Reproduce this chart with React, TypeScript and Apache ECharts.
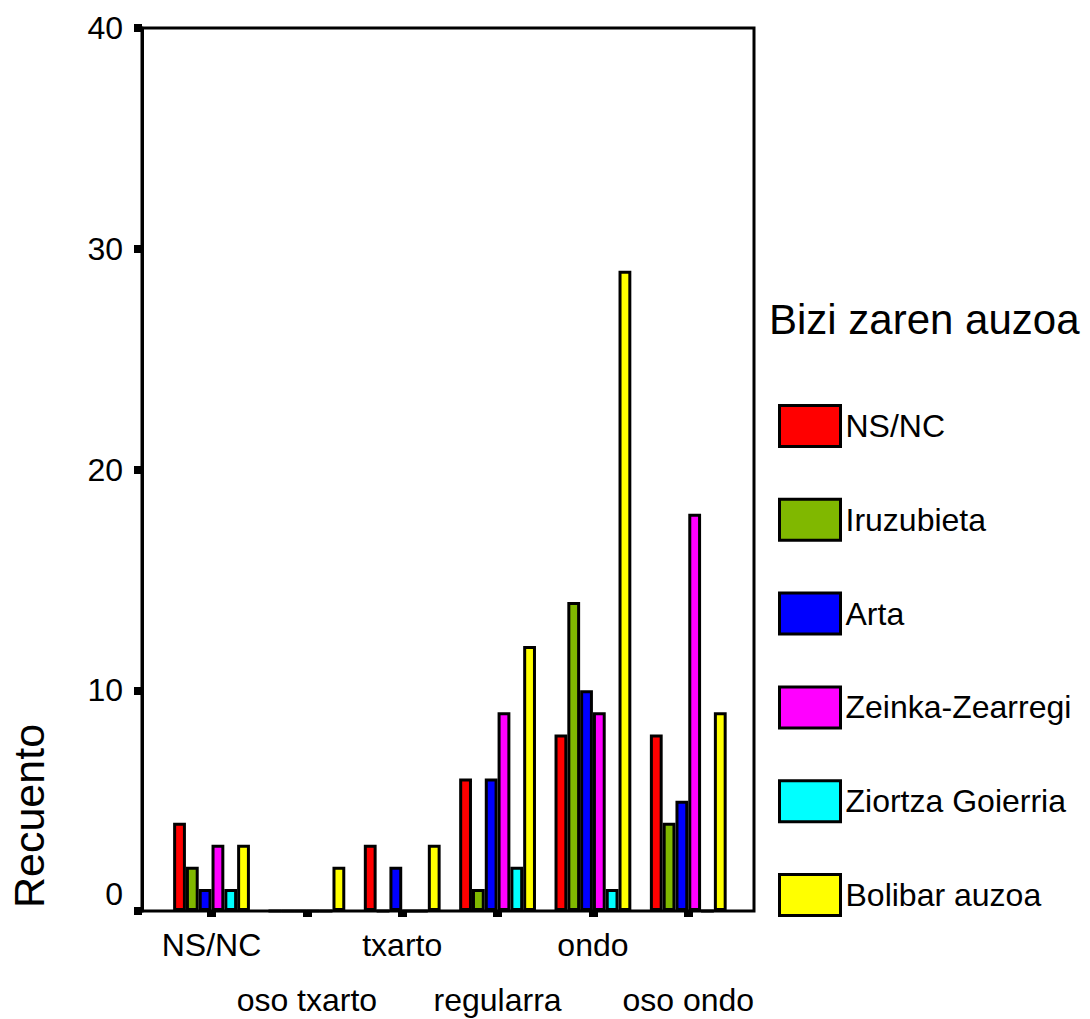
import React, { useEffect, useRef } from "react";
import * as echarts from "echarts";

const categories = ["NS/NC", "oso txarto", "txarto", "regularra", "ondo", "oso ondo"];
const seriesNames = ["NS/NC", "Iruzubieta", "Arta", "Zeinka-Zearregi", "Ziortza Goierria", "Bolibar auzoa"];
const nsnc = [4, 0, 3, 6, 8, 8];
const iruzubieta = [2, 0, 0, 1, 14, 4];
const arta = [1, 0, 2, 6, 10, 5];
const zeinka = [3, 0, 0, 9, 9, 18];
const ziortza = [1, 0, 0, 2, 1, 0];
const bolibar = [3, 2, 3, 12, 29, 9];
const seriesValues = [nsnc, iruzubieta, arta, zeinka, ziortza, bolibar];
const colors = ["#FF0000", "#80B800", "#0000FF", "#FF00FF", "#00FFFF", "#FFFF00"];
const yTicks = { min: 0, max: 40, interval: 10 };
const legendTitle = "Bizi zaren auzoa";
const yTitle = "Recuento";

const FONT = "'Liberation Sans', Arial, sans-serif";

export default function App() {
  const ref = useRef<HTMLDivElement>(null);
  useEffect(() => {
    if (!ref.current) return;
    const chart = echarts.init(ref.current, null, { renderer: "svg" });
    const option: any = {
      animation: false,
      backgroundColor: "#ffffff",
      textStyle: { fontFamily: FONT, color: "#000" },
      grid: [
        {
          left: 142, top: 28, width: 612, height: 883, outerBoundsMode: "none", containLabel: false,
          show: true, borderColor: "#000", borderWidth: 3, backgroundColor: "transparent",
        },
        { left: 163.85, top: 28, width: 572.1, height: 883, outerBoundsMode: "none", containLabel: false },
      ],
      xAxis: [
        { type: "value", gridIndex: 0, show: false, min: 0, max: 1 },
        {
          type: "category", gridIndex: 1, data: categories,
          axisLine: { show: false },
          axisTick: { show: true, alignWithLabel: true, length: 6, lineStyle: { color: "#000", width: 9 } },
          axisLabel: {
            interval: 0, margin: 6, fontSize: 32, lineHeight: 55, color: "#000", fontFamily: FONT,
            formatter: (v: string, i: number) => (i % 2 === 1 ? "\n" + v : v),
          },
          splitLine: { show: false },
        },
      ],
      yAxis: [
        {
          type: "value", gridIndex: 0, min: yTicks.min, max: yTicks.max, interval: yTicks.interval,
          axisLine: { show: true, lineStyle: { color: "#000", width: 3 } },
          axisTick: { show: true, length: 8, lineStyle: { color: "#000", width: 8 } },
          axisLabel: {
            margin: 19, fontSize: 32, color: "#000", fontFamily: FONT,
            formatter: (v: number) => (v === 0 ? "{z|0}" : String(v)),
            rich: { z: { fontSize: 32, fontFamily: FONT, color: "#000", padding: [0, 0, 34, 0] } },
          },
          splitLine: { show: false },
        },
        { type: "value", gridIndex: 1, min: yTicks.min, max: yTicks.max, show: false, splitLine: { show: false } },
      ],
      legend: {
        orient: "vertical", left: 773, top: 399,
        itemWidth: 61, itemHeight: 41, itemGap: 49.8,
        icon: "rect",
        itemStyle: { borderColor: "#000", borderWidth: 3 },
        textStyle: { fontSize: 32, color: "#000", fontFamily: FONT },
        data: seriesNames,
      },
      series: seriesNames.map((name, i) => ({
        name, type: "bar", xAxisIndex: 1, yAxisIndex: 1,
        data: seriesValues[i],
        barWidth: 12.8, barGap: "0%",
        itemStyle: { color: colors[i], borderColor: "#000", borderWidth: 3 },
      })),
      graphic: [
        {
          type: "text", left: 769, top: 298,
          style: { text: legendTitle, fontSize: 42, fontFamily: FONT, fill: "#000" },
        },
        {
          type: "text", x: 29, y: 816, rotation: Math.PI / 2,
          style: { text: yTitle, fontSize: 43, fontFamily: FONT, fill: "#000", align: "center", verticalAlign: "middle" },
        },
      ],
    };
    chart.setOption(option);
    return () => chart.dispose();
  }, []);
  return (
    <div
      ref={ref}
      style={{ position: "fixed", left: 0, top: 0, width: 1090, height: 1019, background: "#fff" }}
    />
  );
}
